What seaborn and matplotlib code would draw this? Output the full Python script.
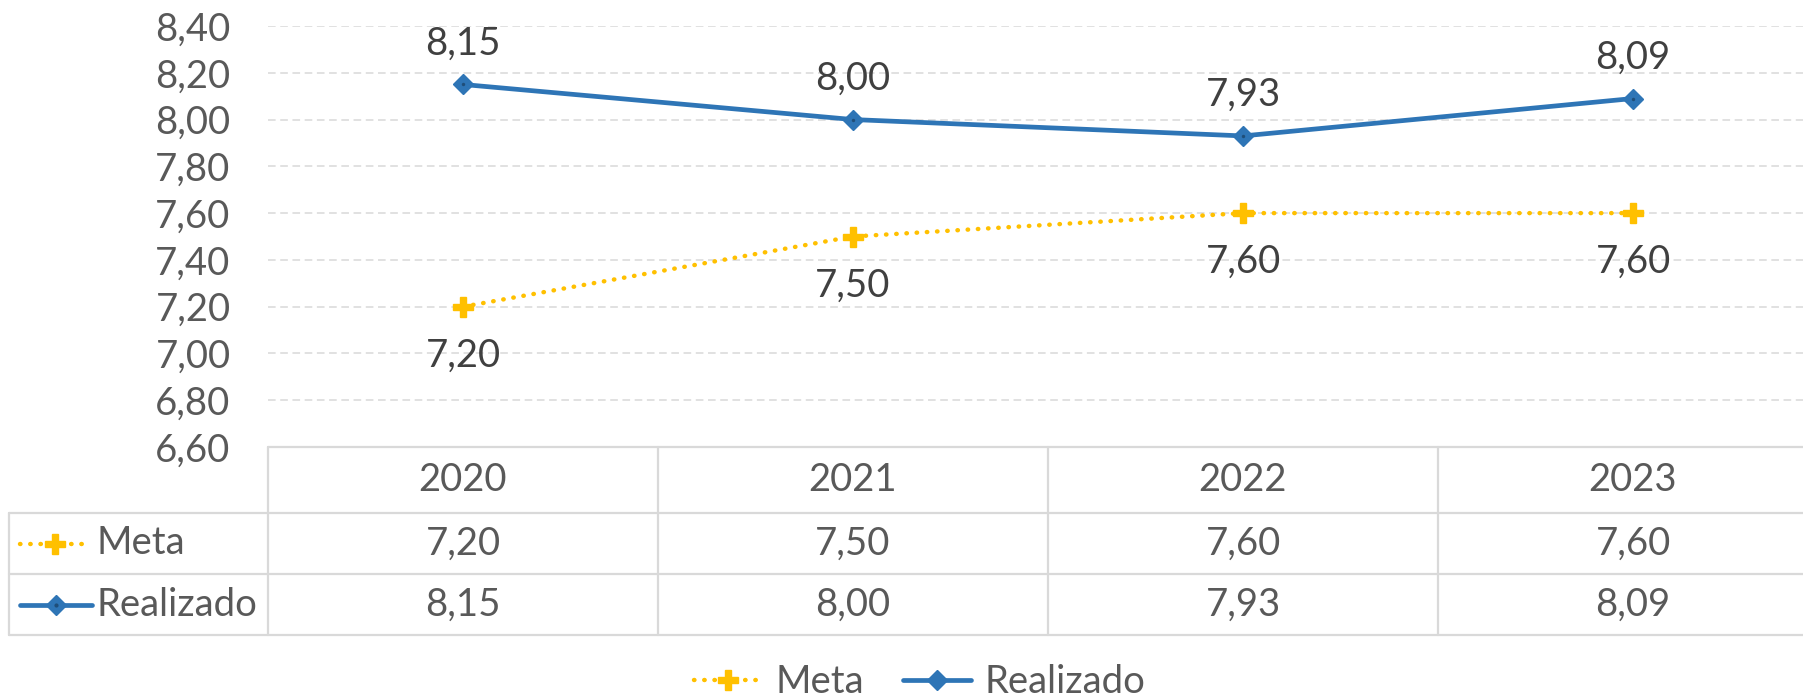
import pandas as pd
import seaborn as sns
import matplotlib.pyplot as plt
from matplotlib.lines import Line2D

# data
anos = ['2020', '2021', '2022', '2023']
meta = [7.20, 7.50, 7.60, 7.60]
realizado = [8.15, 8.00, 7.93, 8.09]
yticks = [6.60, 6.80, 7.00, 7.20, 7.40, 7.60, 7.80, 8.00, 8.20, 8.40]

cor_meta = '#FFC000'
cor_real = '#2E75B6'
cinza_txt = '#595959'
cinza_lin = '#D9D9D9'
fs = 27.5


def br(v):
    return f'{v:.2f}'.replace('.', ',')


sns.set_theme(style='white')
plt.rcParams['font.family'] = ['Lato', 'DejaVu Sans']

W, H = 1803, 698
fig = plt.figure(figsize=(W / 100, H / 100), dpi=100)

# plot area (pixels): left 268, column width 390, top 26, bottom 447; table down to 635
x0, cw = 268, 390
ax = fig.add_axes([x0 / W, 1 - 447 / H, 4 * cw / W, (447 - 26) / H])
axt = fig.add_axes([x0 / W, 1 - 635 / H, 4 * cw / W, (635 - 447) / H])

df_meta = pd.DataFrame({'Ano': anos, 'Valor': meta})
df_real = pd.DataFrame({'Ano': anos, 'Valor': realizado})

meta_kw = dict(color=cor_meta, linewidth=3.2, linestyle=(0, (0.1, 2.2)),
               dash_capstyle='round', marker='P', markersize=15,
               markerfacecolor=cor_meta, markeredgecolor=cor_meta, markeredgewidth=1)
real_kw = dict(color=cor_real, linewidth=3.4, marker='D', markersize=10,
               markerfacecolor=cor_real, markeredgecolor=cor_real, markeredgewidth=1)

sns.lineplot(data=df_meta, x='Ano', y='Valor', ax=ax, errorbar=None, sort=False, **meta_kw)
sns.lineplot(data=df_real, x='Ano', y='Valor', ax=ax, errorbar=None, sort=False, **real_kw)
# small dark dot in the centre of each diamond
sns.scatterplot(data=df_real, x='Ano', y='Valor', ax=ax, color='#1F4E79', s=6,
                linewidth=0, zorder=5)

ax.set_xlim(-0.5, 3.5)
ax.set_ylim(6.6, 8.4)
ax.set_yticks(yticks)
ax.set_yticklabels([br(v) for v in yticks])
ax.set_xticks([])
ax.set_xlabel('')
ax.set_ylabel('')
ax.tick_params(axis='y', length=0, pad=27, labelsize=fs, labelcolor=cinza_txt)
ax.yaxis.grid(True, color=cinza_lin, linestyle=(0, (5, 3)), linewidth=1.1)
for s in ax.spines.values():
    s.set_visible(False)

# data labels
for i, v in enumerate(realizado):
    ax.annotate(br(v), (i, v), xytext=(0, 41), textcoords='offset pixels',
                ha='center', va='center', fontsize=fs, color='#404040')
for i, v in enumerate(meta):
    ax.annotate(br(v), (i, v), xytext=(0, -49), textcoords='offset pixels',
                ha='center', va='center', fontsize=fs, color='#404040')

# data table below the chart
axt.set_xlim(-0.5, 3.5)
axt.set_ylim(188, 0)
axt.axis('off')


def px2x(px):
    return -0.5 + (px - x0) / cw


left = px2x(9)
lk = dict(color=cinza_lin, linewidth=1.6, clip_on=False)
axt.plot([-0.5, 4.5], [0, 0], **lk)
for yy in [66, 127, 188]:
    axt.plot([left, 4.5], [yy, yy], **lk)
for xx in [-0.5, 0.5, 1.5, 2.5]:
    axt.plot([xx, xx], [0, 188], **lk)
axt.plot([left, left], [66, 188], **lk)

for i, a in enumerate(anos):
    axt.text(i, 33, a, ha='center', va='center', fontsize=fs, color=cinza_txt)
    axt.text(i, 96.5, br(meta[i]), ha='center', va='center', fontsize=fs, color=cinza_txt)
    axt.text(i, 157.5, br(realizado[i]), ha='center', va='center', fontsize=fs, color=cinza_txt)

# legend keys inside the table
axt.add_line(Line2D([px2x(20), px2x(90)], [96.5, 96.5], clip_on=False,
                    **{k: v for k, v in meta_kw.items() if k != 'marker'}))
axt.plot([px2x(55)], [96.5], marker='P', markersize=15, color=cor_meta, clip_on=False)
axt.add_line(Line2D([px2x(20), px2x(92)], [157.5, 157.5], clip_on=False,
                    color=cor_real, linewidth=3.4))
axt.plot([px2x(56)], [157.5], marker='D', markersize=10, color=cor_real, clip_on=False)
axt.plot([px2x(56)], [157.5], marker='o', markersize=2, color='#1F4E79', clip_on=False)
axt.text(px2x(97), 96.5, 'Meta', ha='left', va='center', fontsize=fs, color=cinza_txt)
axt.text(px2x(97), 157.5, 'Realizado', ha='left', va='center', fontsize=fs, color=cinza_txt)

# bottom legend
h_meta = Line2D([], [], **meta_kw)
h_real = Line2D([], [], **real_kw)
fig.legend([h_meta, h_real], ['Meta', 'Realizado'], loc='center',
           bbox_to_anchor=(0.51, 1 - 682 / H), ncol=2, frameon=False,
           fontsize=fs, labelcolor=cinza_txt, handlelength=1.8,
           handletextpad=0.35, columnspacing=1.0)

fig.savefig('out.png', dpi=100)
